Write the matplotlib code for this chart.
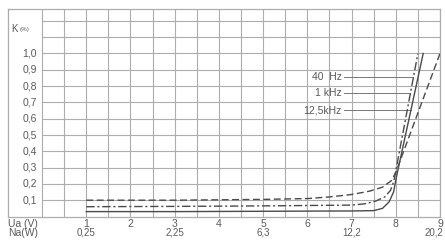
import matplotlib
matplotlib.use("Agg")
import matplotlib.pyplot as plt
import numpy as np

# ---- data ----
ua_ticks = [1, 2, 3, 4, 5, 6, 7, 8, 9]
na_ticks = [1, 3, 5, 7, 9]
na_labels = ["0,25", "2,25", "6,3", "12,2", "20,2"]
k_ticks = [0.1, 0.2, 0.3, 0.4, 0.5, 0.6, 0.7, 0.8, 0.9, 1.0]
k_labels = ["0,1", "0,2", "0,3", "0,4", "0,5", "0,6", "0,7", "0,8", "0,9", "1,0"]

# 40 Hz (dashed)
ua_40 = [1, 3, 5, 6, 6.5, 7, 7.4, 7.7, 7.9, 8.0, 9.0]
k_40 = [0.10, 0.10, 0.105, 0.11, 0.12, 0.135, 0.155, 0.18, 0.22, 0.27, 1.0]
# 1 kHz (dash-dot)
ua_1k = [1, 3, 5, 7.0, 7.3, 7.55, 7.75, 7.88, 7.96, 8.0, 8.5]
k_1k = [0.06, 0.062, 0.065, 0.07, 0.078, 0.095, 0.12, 0.16, 0.22, 0.28, 1.0]
# 12,5 kHz (solid)
ua_12k = [1, 3, 5, 7.0, 7.5, 7.7, 7.85, 7.95, 8.02, 8.62]
k_12k = [0.03, 0.03, 0.032, 0.034, 0.036, 0.05, 0.09, 0.15, 0.25, 1.0]

labels = ["40  Hz", "1 kHz", "12,5kHz"]
label_k = [0.856, 0.758, 0.653]
label_end = [8.38, 8.33, 8.35]

grid_c = "#adadad"
line_c = "#4a4a4a"
text_c = "#5a5a5a"
font = "Liberation Sans"

fig = plt.figure(figsize=(4.45, 2.43), dpi=100)
fig.patch.set_facecolor("white")
W, H = 445, 243
left_px, right_px, top_px, bot_px = 8, 440, 9, 216.5
ax = fig.add_axes([left_px / W, 1 - bot_px / H, (right_px - left_px) / W,
                   (bot_px - top_px) / H])
xmin, xmax = -0.77, 9.0
ymax = (bot_px - top_px) / 163.0
ax.set_xlim(xmin, xmax)
ax.set_ylim(0, ymax)
ax.set_xticks([])
ax.set_yticks([])
for s in ax.spines.values():
    s.set_color(grid_c)
    s.set_linewidth(0.9)

# grid
xs = np.arange(0, 9.01, 0.5)
ax.vlines(xs, 0, ymax, color=grid_c, lw=0.8, zorder=1)
ys = np.arange(0.1, 1.21, 0.1)
ax.hlines(ys, 0, xmax, color=grid_c, lw=0.8, zorder=1)

# curves
ax.plot(ua_40, k_40, color=line_c, lw=1.0, dashes=(5, 2.5), zorder=3)
ax.plot(ua_1k, k_1k, color=line_c, lw=1.0, dashes=(6, 2, 1.5, 2), zorder=3)
ax.plot(ua_12k, k_12k, color=line_c, lw=1.0, zorder=3)

# labels with leader lines
for lab, ky, xe in zip(labels, label_k, label_end):
    ax.text(6.78, ky, lab, ha="right", va="center", fontsize=7.5,
            color=text_c, family=font)
    ax.plot([6.82, xe], [ky, ky], color="#777777", lw=0.7, zorder=2)

# y labels
for kv, kl in zip(k_ticks, k_labels):
    ax.text(-0.12, kv, kl, ha="right", va="center", fontsize=7.5,
            color=text_c, family=font)
ax.text(-0.7, 1.15, "K", ha="left", va="center", fontsize=7,
        color=text_c, family=font)
ax.text(-0.5, 1.145, "(%)", ha="left", va="center", fontsize=4.5,
        color=text_c, family=font)

# x labels
tr = ax.get_xaxis_transform()
for u in ua_ticks:
    ax.text(u, -0.036, str(u), ha="center", va="center", fontsize=7.5,
            color=text_c, family=font, transform=tr, clip_on=False)
for u, nl in zip(na_ticks, na_labels):
    if u == na_ticks[-1]:
        ax.text(9.08, -0.078, nl, ha="right", va="center", fontsize=7,
                color=text_c, family=font, transform=tr, clip_on=False)
    else:
        ax.text(u, -0.078, nl, ha="center", va="center", fontsize=7,
                color=text_c, family=font, transform=tr, clip_on=False)
ax.text(-0.77, -0.036, "Ua (V)", ha="left", va="center", fontsize=7.5,
        color=text_c, family=font, transform=tr, clip_on=False)
ax.text(-0.77, -0.078, "Na(W)", ha="left", va="center", fontsize=7.5,
        color=text_c, family=font, transform=tr, clip_on=False)

fig.savefig("out.png", dpi=100, facecolor="white")
